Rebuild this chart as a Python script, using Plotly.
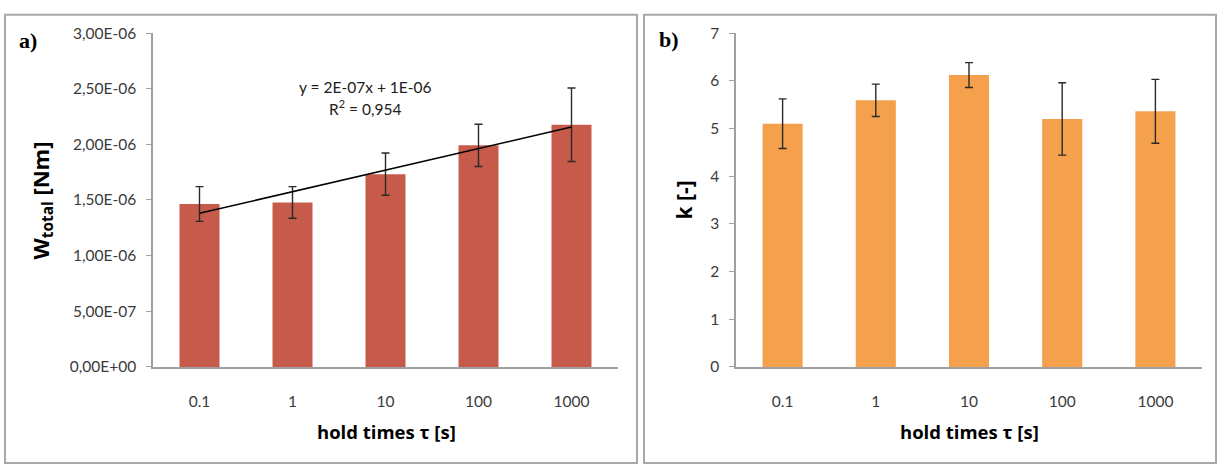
import numpy as np
import plotly.graph_objects as go

W_PX, H_PX = 1219, 473

categories = ["0.1", "1", "10", "100", "1000"]

# panel a) total work W_total [Nm]
w_total = [1.464e-06, 1.478e-06, 1.732e-06, 1.991e-06, 2.176e-06]
w_err = [0.156e-06, 0.142e-06, 0.190e-06, 0.190e-06, 0.330e-06]
w_tickvals = [0, 0.5e-06, 1.0e-06, 1.5e-06, 2.0e-06, 2.5e-06, 3.0e-06]
w_ticktext = ["0,00E+00", "5,00E-07", "1,00E-06", "1,50E-06", "2,00E-06", "2,50E-06", "3,00E-06"]

# panel b) k [-]
k_vals = [5.10, 5.59, 6.12, 5.20, 5.36]
k_err = [0.52, 0.34, 0.26, 0.76, 0.67]
k_tickvals = [0, 1, 2, 3, 4, 5, 6, 7]

eq_text = "y = 2E-07x + 1E-06"
r2_text = "R<sup>2</sup> = 0,954"

# linear trendline fitted over category index (1..5), as Excel does
idx = np.arange(1, len(categories) + 1)
slope, intercept = np.polyfit(idx, w_total, 1)
trend = slope * idx + intercept


def px(x):
    return x / W_PX


def py(y):
    return 1 - y / H_PX


FONT = "Lato, 'Noto Sans', sans-serif"
TITLE_FONT = "'Open Sans', sans-serif"
TICK_COLOR = "#3a3a3a"
AXIS_COLOR = "#a0a0a0"

fig = go.Figure()

fig.add_trace(go.Bar(
    x=categories, y=w_total, marker=dict(color="#C65B4B", line=dict(width=0)),
    error_y=dict(type="data", array=w_err, visible=True, color="#2a2a2a", thickness=1.4, width=4),
    xaxis="x", yaxis="y", showlegend=False,
))
fig.add_trace(go.Scatter(
    x=categories, y=trend, mode="lines", line=dict(color="black", width=1.5),
    xaxis="x", yaxis="y", showlegend=False,
))
fig.add_trace(go.Bar(
    x=categories, y=k_vals, marker=dict(color="#F4A04C", line=dict(width=0)),
    error_y=dict(type="data", array=k_err, visible=True, color="#2a2a2a", thickness=1.4, width=4),
    xaxis="x2", yaxis="y2", showlegend=False,
))

ydom = [py(371), py(24)]
common_x = dict(type="category", showgrid=False, zeroline=False, showline=True,
                linecolor=AXIS_COLOR, linewidth=1.5, ticks="", ticklabelstandoff=20,
                tickfont=dict(family=FONT, size=15.5, color=TICK_COLOR))
common_y = dict(showgrid=False, zeroline=False, showline=True, linecolor=AXIS_COLOR,
                linewidth=1.5, ticks="outside", ticklen=5, tickcolor=AXIS_COLOR,
                ticklabelstandoff=7,
                tickfont=dict(family=FONT, size=15.5, color=TICK_COLOR))

fig.update_layout(
    width=W_PX, height=H_PX,
    margin=dict(l=0, r=0, t=0, b=0),
    paper_bgcolor="white", plot_bgcolor="white",
    bargap=0.57,
    xaxis=dict(domain=[px(153), px(618)], anchor="y", **common_x),
    yaxis=dict(domain=ydom, anchor="x", range=[0, 3.0e-06], tickmode="array",
               tickvals=w_tickvals, ticktext=w_ticktext, **common_y),
    xaxis2=dict(domain=[px(736), px(1202)], anchor="y2", **common_x),
    yaxis2=dict(domain=ydom, anchor="x2", range=[0, 7], tickmode="array",
                tickvals=k_tickvals, ticktext=[str(v) for v in k_tickvals], **common_y),
)

# panel borders
for x0, x1 in [(5, 637), (644, 1216)]:
    fig.add_shape(type="rect", xref="paper", yref="paper",
                  x0=px(x0), x1=px(x1), y0=py(471), y1=py(5),
                  line=dict(color="#a8a8a8", width=2), fillcolor="rgba(0,0,0,0)")

BOLD = dict(family=TITLE_FONT, color="black", weight="bold")
ann = []
# panel letters
ann.append(dict(text="a)", x=px(17), y=py(32), xanchor="left", yanchor="middle",
                font=dict(family="Liberation Serif", size=22, color="black", weight="bold")))
ann.append(dict(text="b)", x=px(657), y=py(31), xanchor="left", yanchor="middle",
                font=dict(family="Liberation Serif", size=22, color="black", weight="bold")))
# y titles
ann.append(dict(text="W<sub>total</sub> [Nm]", x=px(42), y=py(198), textangle=-90,
                xanchor="center", yanchor="middle", font=dict(size=22, **BOLD)))
ann.append(dict(text="k [-]", x=px(684), y=py(198), textangle=-90,
                xanchor="center", yanchor="middle", font=dict(size=21, **BOLD)))
# x titles
ann.append(dict(text="hold times τ [s]", x=px(386), y=py(438), xanchor="center",
                yanchor="middle", font=dict(size=18.5, **BOLD)))
ann.append(dict(text="hold times τ [s]", x=px(969), y=py(438), xanchor="center",
                yanchor="middle", font=dict(size=18.5, **BOLD)))
# trendline equation
ann.append(dict(text=eq_text, x=px(365), y=py(80), xanchor="center", yanchor="middle",
                font=dict(family=FONT, size=15.5, color="#202020")))
ann.append(dict(text=r2_text, x=px(365), y=py(101), xanchor="center", yanchor="middle",
                font=dict(family=FONT, size=15.5, color="#202020")))

for a in ann:
    a.update(xref="paper", yref="paper", showarrow=False)
fig.update_layout(annotations=ann)

fig.write_html("out.html")
